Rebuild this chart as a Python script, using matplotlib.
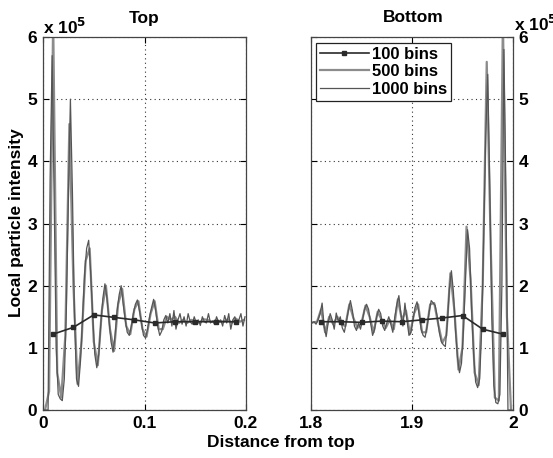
import numpy as np
import matplotlib

matplotlib.use("Agg")
import matplotlib.pyplot as plt

plt.rcParams["font.family"] = ["Liberation Sans", "DejaVu Sans"]
plt.rcParams["font.weight"] = "bold"

# values in units of 1e5
top_100 = [1.22, 1.33, 1.53, 1.49, 1.45, 1.40, 1.42, 1.42, 1.42, 1.42]
bot_100 = [1.42, 1.42, 1.41, 1.43, 1.42, 1.45, 1.48, 1.52, 1.30, 1.22]

top_500 = [0.0, 0.3, 6.3, 0.6, 0.2, 1.2, 4.6, 2.0, 0.42, 1.1,
           2.4, 2.6, 1.1, 0.72, 1.6, 2.0, 1.3, 0.95, 1.7, 1.95,
           1.35, 1.22, 1.62, 1.75, 1.3, 1.18, 1.55, 1.75, 1.3, 1.3,
           1.5, 1.45, 1.5, 1.4, 1.45, 1.4, 1.45, 1.43, 1.4, 1.46,
           1.45, 1.42, 1.44, 1.43, 1.42, 1.46, 1.4, 1.47, 1.42, 1.45]
bot_500 = [1.41, 1.42, 1.62, 1.25, 1.5, 1.38, 1.5, 1.38, 1.35, 1.7,
           1.48, 1.32, 1.4, 1.68, 1.5, 1.25, 1.58, 1.45, 1.32, 1.45,
           1.3, 1.78, 1.45, 1.6, 1.22, 1.55, 1.7, 1.25, 1.25, 1.7,
           1.72, 1.38, 1.08, 1.2, 2.2, 1.6, 0.65, 1.0, 2.95, 2.1,
           0.6, 0.4, 2.0, 5.6, 2.6, 0.2, 0.15, 6.3, 1.5, 0.0]

top_1000 = [0.0, 0.0, 0.0, 3.7, 5.7, 3.4, 1.0, 0.25, 0.18, 0.15,
            0.5, 1.6, 3.4, 5.0, 3.5, 1.5, 0.5, 0.38, 0.8, 1.5,
            2.2, 2.6, 2.73, 2.2, 1.5, 0.9, 0.68, 0.9, 1.4, 1.8,
            2.03, 1.8, 1.45, 1.1, 0.93, 1.2, 1.6, 1.85, 2.0, 1.7,
            1.45, 1.25, 1.2, 1.35, 1.55, 1.7, 1.77, 1.6, 1.4, 1.2,
            1.16, 1.3, 1.5, 1.65, 1.78, 1.6, 1.35, 1.2, 1.27, 1.45,
            1.52, 1.4, 1.55, 1.35, 1.6, 1.3, 1.45, 1.55, 1.38, 1.5,
            1.35, 1.55, 1.42, 1.38, 1.5, 1.4, 1.45, 1.36, 1.5, 1.42,
            1.4, 1.55, 1.4, 1.43, 1.38, 1.5, 1.41, 1.45, 1.35, 1.52,
            1.4, 1.55, 1.3, 1.45, 1.5, 1.38, 1.45, 1.55, 1.35, 1.5]
bot_1000 = [1.40, 1.42, 1.38, 1.45, 1.55, 1.72, 1.35, 1.18, 1.4, 1.55,
            1.45, 1.3, 1.56, 1.42, 1.5, 1.32, 1.25, 1.42, 1.6, 1.76,
            1.6, 1.35, 1.28, 1.4, 1.3, 1.45, 1.62, 1.7, 1.62, 1.4,
            1.2, 1.3, 1.5, 1.62, 1.55, 1.35, 1.28, 1.4, 1.5, 1.38,
            1.25, 1.5, 1.7, 1.84, 1.55, 1.35, 1.72, 1.45, 1.2, 1.25,
            1.45, 1.65, 1.74, 1.55, 1.3, 1.2, 1.17, 1.35, 1.58, 1.76,
            1.72, 1.68, 1.5, 1.25, 1.1, 1.05, 1.02, 1.4, 1.95, 2.24,
            1.9, 1.3, 0.85, 0.6, 0.75, 1.3, 2.1, 2.9, 2.6, 1.6,
            0.9, 0.45, 0.36, 0.5, 1.3, 2.8, 4.4, 5.4, 3.6, 1.5,
            0.4, 0.12, 0.1, 0.25, 2.0, 5.8, 3.5, 0.0, 0.0, 0.0]


def centers(start, n, width):
    return start + width * (np.arange(n) + 0.5)


W, H = 553, 458
FS = 12.5
fig = plt.figure(figsize=(W / 100, H / 100), dpi=100)
ax_l = fig.add_axes([43 / W, 48 / H, 203 / W, 373 / H])
ax_r = fig.add_axes([311 / W, 48 / H, 202 / W, 373 / H])

panels = [
    (ax_l, 0.0, top_100, top_500, top_1000, "Top", 144, [0, 0.1, 0.2], ["0", "0.1", "0.2"]),
    (ax_r, 1.8, bot_100, bot_500, bot_1000, "Bottom", 413, [1.8, 1.9, 2.0], ["1.8", "1.9", "2"]),
]

for ax, x0, v100, v500, v1000, title, tx, xt, xtl in panels:
    ax.plot(centers(x0, len(v500), 0.004), np.array(v500) * 1e5,
            color="#8c8c8c", lw=1.6, label="500 bins", zorder=2)
    ax.plot(centers(x0, len(v1000), 0.002), np.array(v1000) * 1e5,
            color="#555555", lw=0.9, label="1000 bins", zorder=3)
    ax.plot(centers(x0, len(v100), 0.02), np.array(v100) * 1e5,
            color="#2a2a2a", lw=1.2, marker="s", ms=3, label="100 bins", zorder=4)
    ax.set_xlim(x0, x0 + 0.2)
    ax.set_ylim(0, 6e5)
    ax.set_xticks(xt)
    ax.set_xticklabels(xtl)
    ax.set_yticks(np.arange(0, 7) * 1e5)
    ax.set_yticklabels([str(i) for i in range(7)])
    ax.grid(True, color="#333333", linestyle=(0, (1, 3)), lw=0.8)
    ax.tick_params(direction="in", length=4, labelsize=FS, top=True, right=True,
                   left=True, width=0.8, pad=4)
    for lab in ax.get_xticklabels() + ax.get_yticklabels():
        lab.set_fontweight("bold")
    for sp in ax.spines.values():
        sp.set_color("#444444")
        sp.set_linewidth(0.9)
    fig.text(tx / W, 1 - 18 / H, title, fontsize=FS, fontweight="bold",
             ha="center", va="center")

ax_r.yaxis.tick_right()
ax_r.tick_params(left=True, right=True, labelleft=False, labelright=True)

handles, labels = ax_r.get_legend_handles_labels()
order = [2, 0, 1]
leg = ax_r.legend([handles[i] for i in order], [labels[i] for i in order],
                  loc="upper left", bbox_to_anchor=(0.025, 0.985), borderaxespad=0,
                  fancybox=False, framealpha=1, edgecolor="#222222",
                  handlelength=2.9, handletextpad=0.2, labelspacing=0.15,
                  borderpad=0.25, prop={"size": 12, "weight": "bold"})
leg.get_frame().set_linewidth(0.9)

fig.text(43 / W, 1 - 27 / H, r"x 10$^5$", fontsize=FS, fontweight="bold",
         ha="left", va="center")
fig.text(514 / W, 1 - 24 / H, r"x 10$^5$", fontsize=FS, fontweight="bold",
         ha="left", va="center")

fig.text(17 / W, 1 - 223 / H, "Local particle intensity", rotation=90,
         fontsize=FS, fontweight="bold", ha="center", va="center")
fig.text(281 / W, 1 - 442 / H, "Distance from top", fontsize=FS,
         fontweight="bold", ha="center", va="center")

fig.savefig("out.png", dpi=100)
